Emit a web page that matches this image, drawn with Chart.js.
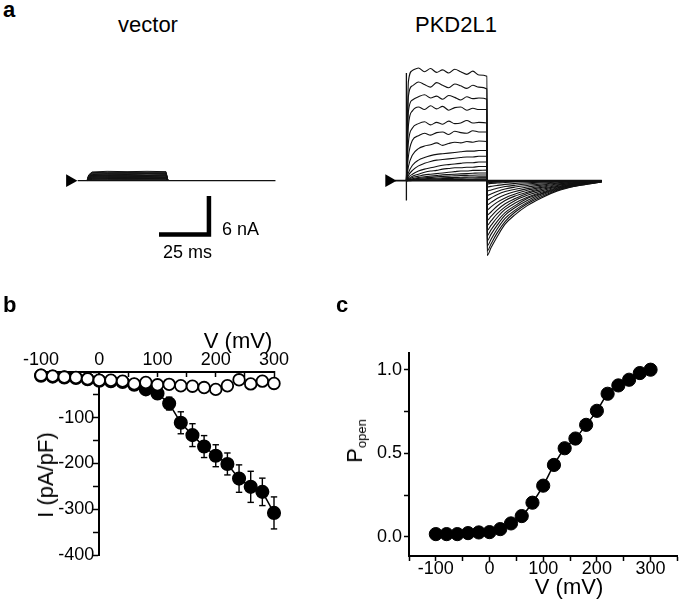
<!DOCTYPE html>
<html>
<head>
<meta charset="utf-8">
<script src="https://cdn.jsdelivr.net/npm/chart.js@4.4.1/dist/chart.umd.min.js"></script>
<style>
  body { margin: 0; background: #fff; }
  #fig { position: relative; width: 685px; height: 604px; overflow: hidden;
         font-family: 'Liberation Sans', Arial, sans-serif; color: #000; }
  canvas { position: absolute; }
  .lbl { position: absolute; line-height: 1; white-space: nowrap; }
  .panel { font-weight: bold; font-size: 22px; }
  .rot { transform: translate(-50%, -50%) rotate(-90deg); }
  sub { font-size: 13px; vertical-align: -4px; }
</style>
</head>
<body>
<div id="fig">
  <canvas id="vec" width="260" height="240" style="left:40px;top:40px"></canvas>
  <canvas id="pkd" width="300" height="240" style="left:340px;top:40px"></canvas>
  <canvas id="iv" width="340" height="304" style="left:0px;top:300px"></canvas>
  <canvas id="po" width="345" height="304" style="left:340px;top:300px"></canvas>

  <div class="lbl panel" style="left:3px;top:-1px">a</div>
  <div class="lbl panel" style="left:3px;top:294px">b</div>
  <div class="lbl panel" style="left:336px;top:294px">c</div>

  <div class="lbl" style="left:148px;top:14px;font-size:22px;transform:translateX(-50%)">vector</div>
  <div class="lbl" style="left:456px;top:14px;font-size:22px;transform:translateX(-50%)">PKD2L1</div>
  <div class="lbl" style="left:222px;top:220px;font-size:18px">6 nA</div>
  <div class="lbl" style="left:163px;top:243px;font-size:18px">25 ms</div>

  <div class="lbl" style="left:238px;top:330px;font-size:22px;transform:translateX(-50%)">V (mV)</div>
  <div class="lbl rot" style="left:46px;top:475px;font-size:22px">I (pA/pF)</div>
  <div class="lbl" style="left:569px;top:576px;font-size:22px;transform:translateX(-50%)">V (mV)</div>
  <div class="lbl rot" style="left:356px;top:441px;font-size:22px">P<sub>open</sub></div>
</div>
<script>
/* ---------- panel a: current traces (ms, nA) ---------- */
const stepTimes = [0, 1, 3, 6, 9, 12, 15, 18, 21, 24, 27, 30, 33, 36, 40];
const tailTimes = [40.1, 42, 45, 49, 54, 60, 67, 75, 85, 97];

const pkdStep = [
  [0, 15.5, 17.2, 17.6, 17.0, 17.5, 16.9, 17.3, 16.8, 17.4, 17.0, 16.6, 17.1, 16.5, 16.3],
  [0, 13.2, 14.8, 15.4, 15.0, 14.6, 15.3, 14.9, 14.5, 15.1, 14.8, 14.4, 14.9, 14.6, 14.3],
  [0, 10.8, 12.6, 13.1, 13.4, 12.9, 13.2, 12.7, 13.3, 13.0, 12.6, 13.1, 12.8, 12.9, 12.7],
  [0, 8.6, 10.9, 11.5, 11.1, 11.7, 11.2, 11.6, 11.0, 11.4, 11.5, 11.0, 11.3, 11.1, 11.1],
  [0, 6.0, 8.2, 8.9, 9.2, 8.7, 9.1, 8.8, 9.3, 8.9, 9.0, 9.4, 9.0, 9.1, 9.0],
  [0, 3.8, 6.3, 7.0, 7.4, 7.1, 7.5, 7.6, 7.2, 7.7, 7.5, 7.4, 7.8, 7.6, 7.6],
  [0, 2.2, 4.0, 5.0, 5.4, 5.6, 5.9, 5.5, 5.8, 6.0, 5.9, 6.1, 6.0, 6.2, 6.1],
  [0, 1.2, 2.4, 3.2, 3.6, 3.9, 4.1, 4.2, 4.3, 4.4, 4.5, 4.6, 4.6, 4.7, 4.7],
  [0, 0.8, 1.6, 2.3, 2.7, 3.0, 3.2, 3.3, 3.4, 3.5, 3.6, 3.7, 3.7, 3.8, 3.8],
  [0, 0.5, 1.0, 1.5, 1.8, 2.0, 2.2, 2.4, 2.5, 2.6, 2.7, 2.8, 2.8, 2.9, 2.9],
  [0, 0.3, 0.7, 1.0, 1.3, 1.5, 1.6, 1.8, 1.9, 2.0, 2.0, 2.1, 2.1, 2.2, 2.2],
  [0, 0.2, 0.5, 0.7, 0.9, 1.0, 1.1, 1.2, 1.3, 1.4, 1.5, 1.5, 1.6, 1.6, 1.65],
  [0, 0.1, 0.3, 0.5, 0.6, 0.7, 0.8, 0.9, 0.95, 1.0, 1.05, 1.1, 1.15, 1.2, 1.2],
  [0, 0.1, 0.2, 0.35, 0.45, 0.5, 0.6, 0.65, 0.7, 0.75, 0.8, 0.82, 0.85, 0.87, 0.88],
  [0, 0.05, 0.15, 0.25, 0.3, 0.35, 0.4, 0.45, 0.48, 0.5, 0.53, 0.55, 0.57, 0.59, 0.6],
  [0, 0.05, 0.1, 0.15, 0.2, 0.25, 0.28, 0.31, 0.34, 0.36, 0.38, 0.4, 0.41, 0.43, 0.44],
  [0, 0.02, 0.05, 0.08, 0.1, 0.12, 0.14, 0.16, 0.18, 0.19, 0.2, 0.21, 0.22, 0.24, 0.25],
  [0, 0.01, 0.02, 0.04, 0.05, 0.06, 0.07, 0.08, 0.09, 0.1, 0.1, 0.11, 0.11, 0.12, 0.12],
  [0, 0, 0.01, 0.01, 0.02, 0.02, 0.02, 0.03, 0.03, 0.03, 0.03, 0.04, 0.04, 0.04, 0.04]
];
const pkdTail = [
  [-11.7, -10.5, -8.8, -6.8, -5.3, -3.9, -2.7, -1.6, -0.8, -0.2],
  [-11.0, -9.9, -8.2, -6.4, -4.9, -3.6, -2.5, -1.5, -0.8, -0.2],
  [-10.2, -9.2, -7.6, -5.9, -4.6, -3.4, -2.3, -1.4, -0.7, -0.15],
  [-9.4, -8.4, -7.0, -5.4, -4.2, -3.1, -2.1, -1.3, -0.65, -0.15],
  [-8.6, -7.7, -6.4, -5.0, -3.9, -2.8, -2.0, -1.2, -0.6, -0.1],
  [-7.8, -7.0, -5.8, -4.5, -3.5, -2.6, -1.8, -1.1, -0.55, -0.1],
  [-7.0, -6.3, -5.2, -4.1, -3.1, -2.3, -1.6, -1.0, -0.5, -0.1],
  [-6.2, -5.6, -4.6, -3.6, -2.8, -2.0, -1.4, -0.9, -0.45, -0.1],
  [-5.4, -4.9, -4.0, -3.1, -2.4, -1.8, -1.2, -0.75, -0.4, -0.08],
  [-4.6, -4.1, -3.4, -2.7, -2.1, -1.5, -1.05, -0.65, -0.32, -0.07],
  [-3.8, -3.4, -2.8, -2.2, -1.7, -1.25, -0.87, -0.53, -0.27, -0.06],
  [-3.0, -2.7, -2.2, -1.7, -1.35, -1.0, -0.7, -0.42, -0.21, -0.05],
  [-2.3, -2.1, -1.7, -1.3, -1.0, -0.75, -0.53, -0.32, -0.16, -0.03],
  [-1.6, -1.45, -1.2, -0.93, -0.72, -0.53, -0.37, -0.22, -0.11, -0.02],
  [-1.0, -0.9, -0.75, -0.58, -0.45, -0.33, -0.23, -0.14, -0.07, -0.02],
  [-0.5, -0.45, -0.38, -0.29, -0.22, -0.17, -0.12, -0.07, -0.035, -0.01],
  [-0.3, -0.27, -0.23, -0.18, -0.14, -0.1, -0.07, -0.04, -0.02, -0.01],
  [-0.15, -0.14, -0.11, -0.09, -0.07, -0.05, -0.03, -0.02, -0.01, 0],
  [-0.05, -0.05, -0.04, -0.03, -0.02, -0.02, -0.01, -0.01, 0, 0]
];
const pkdSpike = [-3.1, 16.8];       // capacitive transient at step onset
const pkdBaseline = [-5.7, 97];

const vecTimes = [0, 0.8, 2.5, 10, 20, 30, 39.5, 40.5];
const vecTraces = [
  [0, 0.9, 1.35, 1.45, 1.4, 1.45, 1.4, 0],
  [0, 0.8, 1.25, 1.3, 1.3, 1.3, 1.3, 0],
  [0, 0.75, 1.15, 1.2, 1.25, 1.2, 1.2, 0],
  [0, 0.65, 1.05, 1.1, 1.1, 1.1, 1.1, 0],
  [0, 0.6, 0.95, 1.0, 1.0, 1.05, 1.0, 0],
  [0, 0.55, 0.85, 0.9, 0.95, 0.9, 0.92, 0],
  [0, 0.5, 0.8, 0.85, 0.85, 0.8, 0.85, 0],
  [0, 0.45, 0.72, 0.78, 0.78, 0.75, 0.77, 0],
  [0, 0.4, 0.65, 0.7, 0.7, 0.7, 0.7, 0],
  [0, 0.35, 0.58, 0.62, 0.62, 0.63, 0.6, 0],
  [0, 0.3, 0.5, 0.55, 0.55, 0.55, 0.5, 0],
  [0, 0.25, 0.42, 0.47, 0.48, 0.47, 0.46, 0],
  [0, 0.2, 0.35, 0.4, 0.4, 0.4, 0.4, 0],
  [0, 0.15, 0.28, 0.32, 0.32, 0.33, 0.32, 0],
  [0, 0.1, 0.2, 0.25, 0.25, 0.25, 0.25, 0],
  [0, 0.05, 0.12, 0.15, 0.16, 0.15, 0.15, 0]
];
const vecBaseline = [-4.7, 94.3];
const arrowMs = -8.6;
const scaleBarMs = 25, scaleBarNA = 6;

/* ---------- panel b: I-V ---------- */
const voltages = [-100, -80, -60, -40, -20, 0, 20, 40, 60, 80, 100, 120, 140, 160, 180, 200, 220, 240, 260, 280, 300];
const iVector    = [-7, -9, -11, -12, -15, -18, -18, -20, -26, -23, -28, -27, -30, -31, -34, -38, -30, -17, -26, -20, -25];
const iVectorErr = [2, 2, 2, 3, 3, 4, 3, 3, 3, 3, 3, 3, 3, 3, 4, 4, 5, 5, 9, 5, 7];
const iPkd       = [-8, -10, -12, -13, -16, -19, -20, -22, -28, -38, -47, -69, -111, -138, -163, -183, -201, -233, -251, -262, -308];
const iPkdErr    = [2, 2, 2, 2, 2, 3, 3, 3, 3, 3, 5, 14, 24, 25, 24, 24, 24, 30, 34, 30, 35];

/* ---------- panel c: P_open ---------- */
const pOpen = [0.016, 0.016, 0.016, 0.022, 0.026, 0.028, 0.046, 0.08, 0.124, 0.204, 0.306, 0.43, 0.53, 0.588, 0.67, 0.754, 0.856, 0.906, 0.94, 0.98, 1.0];

/* ---------- layout of panel a (page pixels) ---------- */
const PX_PER_MS = 2.12, PX_PER_NA = 6.83, BASE_Y = 182;

Chart.defaults.font.family = "'Liberation Sans', Arial, sans-serif";
Chart.defaults.color = '#000';

const pts = (xs, ys) => xs.map((x, i) => ({ x, y: ys[i] }));
const lineDs = (data, extra) => Object.assign({
  data, showLine: true, pointRadius: 0, borderColor: '#111', borderWidth: 1.1, fill: false
}, extra || {});

function traceChart(id, left, top, w, h, originX, datasets) {
  const x0 = originX - left;
  const y0 = BASE_Y - top;
  return new Chart(document.getElementById(id), {
    type: 'scatter',
    data: { datasets },
    options: {
      responsive: false, animation: false, events: [],
      layout: { padding: 0 },
      plugins: { legend: { display: false }, tooltip: { enabled: false } },
      scales: {
        x: { type: 'linear', display: false, min: -x0 / PX_PER_MS, max: (w - x0) / PX_PER_MS },
        y: { type: 'linear', display: false, min: -(h - y0) / PX_PER_NA, max: y0 / PX_PER_NA }
      }
    }
  });
}

const arrowDs = () => ({
  data: [{ x: arrowMs, y: 0 }], pointStyle: 'triangle', rotation: 90, pointRadius: 7.5,
  backgroundColor: '#000', borderColor: '#000', borderWidth: 0
});

// vector
const vecSets = [arrowDs(), lineDs(pts(vecBaseline, [0, 0]), { borderWidth: 1.3 })];
vecTraces.forEach(tr => vecSets.push(lineDs(pts(vecTimes, tr), { borderColor: '#111', borderWidth: 1 })));
const barCorner = { x: 61, y: -8.4 };
vecSets.push(lineDs([
  { x: barCorner.x - scaleBarMs, y: barCorner.y },
  { x: barCorner.x, y: barCorner.y },
  { x: barCorner.x, y: barCorner.y + scaleBarNA }
], { borderColor: '#000', borderWidth: 4.5, borderJoinStyle: 'miter', borderCapStyle: 'butt' }));
traceChart('vec', 40, 40, 260, 240, 82, vecSets);

// PKD2L1
const pkdSets = [arrowDs(), lineDs(pts(pkdBaseline, [0, 0]), { borderWidth: 1.6 }),
  lineDs(pts([0, 0], pkdSpike), { borderWidth: 1.3 })];
pkdStep.forEach((s, k) => {
  pkdSets.push(lineDs(pts(stepTimes, s).concat(pts(tailTimes, pkdTail[k])),
    { cubicInterpolationMode: 'monotone' }));
});
traceChart('pkd', 340, 40, 300, 240, 402, pkdSets);

/* ---------- panel b ---------- */
function errBars(xs, ys, es) {
  const d = [];
  xs.forEach((x, i) => d.push({ x, y: ys[i] - es[i] }, { x, y: ys[i] + es[i] }, { x, y: null }));
  return d;
}
const axisFont = { size: 18 };

new Chart(document.getElementById('iv'), {
  type: 'scatter',
  data: {
    datasets: [
      { data: pts(voltages, iVector), pointRadius: 5.8, pointBorderWidth: 1.8,
        pointBackgroundColor: '#fff', pointBorderColor: '#000', showLine: false, clip: false },
      { data: errBars(voltages, iVector, iVectorErr), showLine: true, spanGaps: false,
        borderColor: '#000', borderWidth: 1.3, pointStyle: 'line', pointRadius: 3,
        pointBorderWidth: 1.3, pointBorderColor: '#000', clip: false },
      { data: pts(voltages, iPkd), showLine: true, borderColor: '#000', borderWidth: 1.5,
        pointRadius: 6.3, pointBackgroundColor: '#000', pointBorderColor: '#000', clip: false },
      { data: errBars(voltages, iPkd, iPkdErr), showLine: true, spanGaps: false,
        borderColor: '#000', borderWidth: 1.4, pointStyle: 'line', pointRadius: 3.2,
        pointBorderWidth: 1.4, pointBorderColor: '#000', clip: false }
    ]
  },
  options: {
    responsive: false, animation: false, events: [],
    layout: { padding: { left: 41, right: 66, top: 0, bottom: 49 } },
    plugins: { legend: { display: false }, tooltip: { enabled: false } },
    scales: {
      x: {
        type: 'linear', position: 'top', min: -100, max: 300,
        afterFit: s => { s.height = 72; },
        ticks: { stepSize: 50, padding: 6, autoSkip: false, maxRotation: 0, font: axisFont,
                 callback: v => v % 100 === 0 ? v : '' },
        grid: { drawOnChartArea: false, tickLength: -5, tickWidth: 1.5, tickColor: '#000' },
        border: { color: '#000', width: 2 }
      },
      y: {
        type: 'linear', position: { x: 0 }, min: -400, max: 0,
        afterFit: s => { s.width = 0; },
        ticks: { stepSize: 50, padding: 2, autoSkip: false, font: axisFont,
                 callback: v => (v % 100 === 0 && v !== 0) ? v + ' ' : '' },
        grid: { drawOnChartArea: false, tickLength: 5, tickWidth: 1.5, tickColor: '#000' },
        border: { color: '#000', width: 2 }
      }
    }
  }
});

/* ---------- panel c ---------- */
new Chart(document.getElementById('po'), {
  type: 'scatter',
  data: {
    datasets: [
      { data: pts(voltages, pOpen), pointRadius: 6.6, pointBackgroundColor: '#000',
        pointBorderColor: '#000', showLine: false, clip: false },
      { data: pts(voltages, pOpen), showLine: true, pointRadius: 0, borderColor: '#000',
        borderWidth: 1.5, cubicInterpolationMode: 'monotone' }
    ]
  },
  options: {
    responsive: false, animation: false, events: [],
    layout: { padding: { left: 0, right: 3, top: 53, bottom: 0 } },
    plugins: { legend: { display: false }, tooltip: { enabled: false } },
    scales: {
      x: {
        type: 'linear', position: 'bottom', min: -150, max: 350,
        afterFit: s => { s.height = 48; },
        ticks: { stepSize: 50, padding: -3, autoSkip: false, maxRotation: 0, font: axisFont,
                 callback: v => (v % 100 === 0) ? v : '' },
        grid: { drawOnChartArea: false, tickLength: 5, tickWidth: 1.5, tickColor: '#000' },
        border: { color: '#000', width: 2 }
      },
      y: {
        type: 'linear', position: 'left', min: -0.115, max: 1.1,
        afterFit: s => { s.width = 69; },
        ticks: { stepSize: 0.25, includeBounds: false, padding: 2, autoSkip: false, font: axisFont,
                 callback: v => Math.abs(v * 2 - Math.round(v * 2)) < 1e-6 ? v.toFixed(1) : '' },
        grid: { drawOnChartArea: false, tickLength: 5, tickWidth: 1.5, tickColor: '#000' },
        border: { color: '#000', width: 2 }
      }
    }
  }
});
</script>
</body>
</html>
